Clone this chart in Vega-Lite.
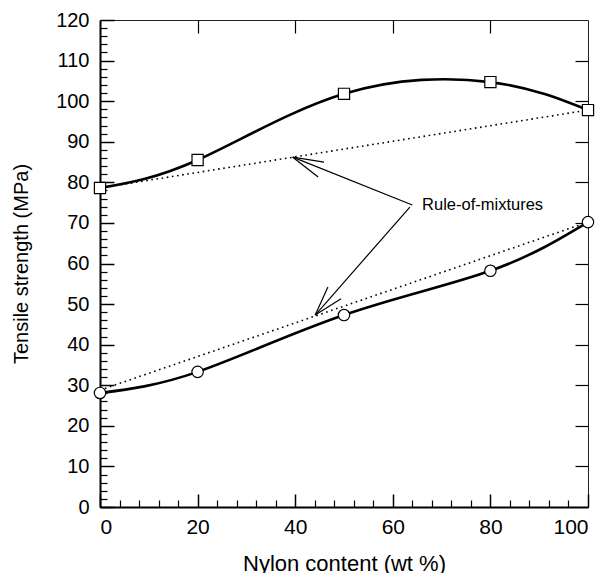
{
  "$schema": "https://vega.github.io/schema/vega-lite/v6.json",
  "autosize": "none",
  "width": 488,
  "height": 487,
  "padding": {"left": 100, "top": 20, "right": 19, "bottom": 66},
  "background": "white",
  "config": {
    "font": "Liberation Sans",
    "view": {"stroke": "#222", "strokeWidth": 1},
    "axis": {"grid": false, "tickColor": "black", "domainColor": "black", "labelColor": "black", "titleColor": "black", "labelFont": "Liberation Sans", "titleFont": "Liberation Sans", "titleFontWeight": "normal"}
  },
  "datasets": {
    "measured": [
      {"nylon": 0, "strength": 78.6, "blend": "upper"},
      {"nylon": 20, "strength": 85.5, "blend": "upper"},
      {"nylon": 50, "strength": 101.8, "blend": "upper"},
      {"nylon": 80, "strength": 104.7, "blend": "upper"},
      {"nylon": 100, "strength": 97.8, "blend": "upper"},
      {"nylon": 0, "strength": 28.1, "blend": "lower"},
      {"nylon": 20, "strength": 33.3, "blend": "lower"},
      {"nylon": 50, "strength": 47.3, "blend": "lower"},
      {"nylon": 80, "strength": 58.2, "blend": "lower"},
      {"nylon": 100, "strength": 70.2, "blend": "lower"}
    ],
    "mixtures": [
      {"nylon": 0, "strength": 78.6, "blend": "upper"},
      {"nylon": 100, "strength": 97.8, "blend": "upper"},
      {"nylon": 0, "strength": 28.8, "blend": "lower"},
      {"nylon": 100, "strength": 70.2, "blend": "lower"}
    ],
    "arrows": [
      {"x1": 64.0, "y1": 74.4, "x2": 39.5, "y2": 86.2},
      {"x1": 45.9, "y1": 85.0, "x2": 39.5, "y2": 86.2},
      {"x1": 44.7, "y1": 81.3, "x2": 39.5, "y2": 86.2},
      {"x1": 63.5, "y1": 73.9, "x2": 44.1, "y2": 47.3},
      {"x1": 46.7, "y1": 54.2, "x2": 44.1, "y2": 47.3},
      {"x1": 49.4, "y1": 51.3, "x2": 44.1, "y2": 47.3}
    ],
    "notes": [
      {"nylon": 66.0, "strength": 73.2, "label": "Rule-of-mixtures"}
    ]
  },
  "layer": [
    {
      "data": {"name": "mixtures"},
      "mark": {"type": "line", "color": "black", "strokeWidth": 1.6, "strokeDash": [1.6, 3.6]},
      "encoding": {
        "x": {"field": "nylon", "type": "quantitative", "scale": {"domain": [0, 100], "nice": false},
          "axis": {"orient": "bottom", "values": [0, 20, 40, 60, 80, 100], "tickSize": -13, "tickWidth": 1.5, "domainWidth": 2, "labelFontSize": 21, "labelPadding": 22, "title": "Nylon content (wt %)", "titleFontSize": 22, "titlePadding": 16}},
        "y": {"field": "strength", "type": "quantitative", "scale": {"domain": [0, 120], "nice": false},
          "axis": {"orient": "left", "values": [0, 10, 20, 30, 40, 50, 60, 70, 80, 90, 100, 110, 120], "tickSize": -14, "tickWidth": 1.5, "domainWidth": 2, "labelFontSize": 20, "labelPadding": 25, "title": "Tensile strength (MPa)", "titleFontSize": 20, "titlePadding": 24}},
        "detail": {"field": "blend"}
      }
    },
    {
      "data": {"name": "measured"},
      "mark": {"type": "line", "color": "black", "strokeWidth": 2.6, "interpolate": "natural"},
      "encoding": {
        "x": {"field": "nylon", "type": "quantitative",
          "axis": {"orient": "bottom", "values": [4, 8, 12, 16, 24, 28, 32, 36, 44, 48, 52, 56, 64, 68, 72, 76, 84, 88, 92, 96], "tickSize": -7, "tickWidth": 1.2, "labels": false, "domain": false, "title": null}},
        "y": {"field": "strength", "type": "quantitative",
          "axis": {"orient": "left", "values": [2, 4, 6, 8, 12, 14, 16, 18, 22, 24, 26, 28, 32, 34, 36, 38, 42, 44, 46, 48, 52, 54, 56, 58, 62, 64, 66, 68, 72, 74, 76, 78, 82, 84, 86, 88, 92, 94, 96, 98, 102, 104, 106, 108, 112, 114, 116, 118], "tickSize": -7, "tickWidth": 1.2, "labels": false, "domain": false, "title": null}},
        "detail": {"field": "blend"}
      }
    },
    {
      "data": {"name": "arrows"},
      "mark": {"type": "rule", "color": "black", "strokeWidth": 1.2},
      "encoding": {
        "x": {"field": "x1", "type": "quantitative",
          "axis": {"orient": "top", "values": [20, 40, 60, 80], "tickSize": -13, "tickWidth": 1.2, "labels": false, "domain": false, "title": null}},
        "y": {"field": "y1", "type": "quantitative",
          "axis": {"orient": "right", "values": [10, 20, 30, 40, 50, 60, 70, 80, 90, 100, 110], "tickSize": -13, "tickWidth": 1.2, "labels": false, "domain": false, "title": null}},
        "x2": {"field": "x2"},
        "y2": {"field": "y2"}
      }
    },
    {
      "data": {"name": "measured"},
      "transform": [{"filter": "datum.blend === 'upper'"}],
      "mark": {"type": "point", "shape": "square", "size": 125, "filled": true, "fill": "white", "stroke": "black", "strokeWidth": 1.2, "opacity": 1},
      "encoding": {
        "x": {"field": "nylon", "type": "quantitative", "axis": null},
        "y": {"field": "strength", "type": "quantitative", "axis": null}
      }
    },
    {
      "data": {"name": "measured"},
      "transform": [{"filter": "datum.blend === 'lower'"}],
      "mark": {"type": "point", "shape": "circle", "size": 130, "filled": true, "fill": "white", "stroke": "black", "strokeWidth": 1.2, "opacity": 1},
      "encoding": {
        "x": {"field": "nylon", "type": "quantitative", "axis": null},
        "y": {"field": "strength", "type": "quantitative", "axis": null}
      }
    },
    {
      "data": {"name": "notes"},
      "mark": {"type": "text", "align": "left", "baseline": "alphabetic", "fontSize": 16.5, "color": "black"},
      "encoding": {
        "x": {"field": "nylon", "type": "quantitative", "axis": null},
        "y": {"field": "strength", "type": "quantitative", "axis": null},
        "text": {"field": "label"}
      }
    }
  ],
  "resolve": {"axis": {"x": "independent", "y": "independent"}}
}
